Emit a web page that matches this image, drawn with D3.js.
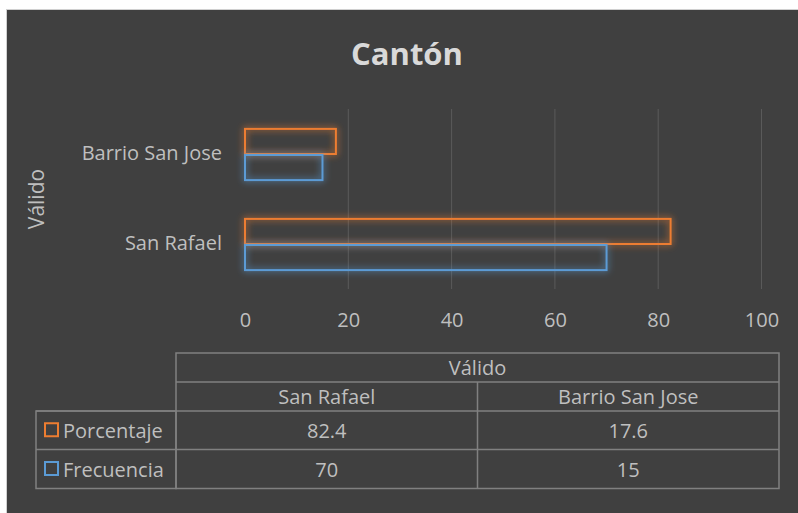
<!DOCTYPE html>
<html>
<head>
<meta charset="utf-8">
<script src="https://cdn.jsdelivr.net/npm/d3@7"></script>
<style>
  html, body { margin: 0; padding: 0; background: #fff; }
  svg { display: block; font-family: "Open Sans", sans-serif; }
</style>
</head>
<body>
<div id="chart"></div>
<script>
const categories = ['Barrio San Jose', 'San Rafael']
const seriesNames = ['Porcentaje', 'Frecuencia']
const porcentaje = [17.6, 82.4]
const frecuencia = [15, 70]
const xTicks = [0, 20, 40, 60, 80, 100]
// table columns go in the order shown under the chart
const tableCols = ['San Rafael', 'Barrio San Jose']
const tableRows = [['82.4', '17.6'], ['70', '15']]

const width = 798
const height = 513
const colors = { Porcentaje: '#ED7D31', Frecuencia: '#5B9BD5' }
const textColor = '#bfbfbf'
const lineColor = '#808080'
const fontSize = 20

const svg = d3.select('#chart').append('svg')
  .attr('width', width)
  .attr('height', height)

const defs = svg.append('defs')
const glow = defs.append('filter')
  .attr('id', 'glow')
  .attr('x', '-20%').attr('y', '-60%')
  .attr('width', '140%').attr('height', '220%')
glow.append('feGaussianBlur')
  .attr('in', 'SourceGraphic')
  .attr('stdDeviation', 3.5)
  .attr('result', 'blur')
glow.append('feComponentTransfer').attr('in', 'blur').attr('result', 'soft')
  .append('feFuncA').attr('type', 'linear').attr('slope', 1.1)
const merge = glow.append('feMerge')
merge.append('feMergeNode').attr('in', 'soft')
merge.append('feMergeNode').attr('in', 'SourceGraphic')

// frame
svg.append('rect')
  .attr('x', 6.5).attr('y', 9.5)
  .attr('width', width).attr('height', height)
  .attr('fill', '#404040')
  .attr('stroke', '#d0d0d0')
  .attr('stroke-width', 1)

svg.append('text')
  .attr('x', 407).attr('y', 65)
  .attr('text-anchor', 'middle')
  .attr('fill', '#d9d9d9')
  .attr('font-size', 31)
  .attr('font-weight', 'bold')
  .text('Cantón')

svg.append('text')
  .attr('transform', 'translate(44,199) rotate(-90)')
  .attr('text-anchor', 'middle')
  .attr('fill', textColor)
  .attr('font-size', 21)
  .text('Válido')

const plot = { left: 245, right: 761.5, top: 109, bottom: 289 }

const x = d3.scaleLinear()
  .domain([0, 100])
  .range([plot.left, plot.right])

const y = d3.scaleBand()
  .domain(categories)
  .range([plot.top, plot.bottom])
  .paddingInner(0.42)
  .paddingOuter(0.21)

const ySub = d3.scaleBand()
  .domain(seriesNames)
  .range([0, y.bandwidth()])

// gridlines
svg.append('g')
  .selectAll('line')
  .data(xTicks.slice(1))
  .join('line')
  .attr('x1', d => x(d)).attr('x2', d => x(d))
  .attr('y1', plot.top).attr('y2', plot.bottom)
  .attr('stroke', '#5a5a5a')
  .attr('stroke-width', 1)

// x axis labels
const xAxis = svg.append('g')
  .attr('transform', `translate(0,${plot.bottom})`)
  .call(d3.axisBottom(x).tickValues(xTicks).tickSize(0).tickPadding(24))
xAxis.select('.domain').remove()
xAxis.selectAll('text')
  .attr('fill', textColor)
  .attr('font-size', fontSize)
  .attr('font-family', '"Open Sans", sans-serif')

// y axis labels
const yAxis = svg.append('g')
  .attr('transform', `translate(${plot.left},0)`)
  .call(d3.axisLeft(y).tickSize(0).tickPadding(23))
yAxis.select('.domain').remove()
yAxis.selectAll('text')
  .attr('fill', textColor)
  .attr('font-size', fontSize)
  .attr('font-family', '"Open Sans", sans-serif')

// bars
const seriesData = [
  { name: 'Porcentaje', values: porcentaje },
  { name: 'Frecuencia', values: frecuencia }
]
seriesData.forEach(s => {
  svg.append('g')
    .attr('filter', 'url(#glow)')
    .selectAll('rect')
    .data(s.values.map((v, i) => ({ cat: categories[i], v })))
    .join('rect')
    .attr('x', x(0))
    .attr('y', d => y(d.cat) + ySub(s.name) + 1)
    .attr('width', d => x(d.v) - x(0))
    .attr('height', ySub.bandwidth() - 1)
    .attr('fill', 'none')
    .attr('stroke', colors[s.name])
    .attr('stroke-width', 2)
})

// data table
const tbl = { legendLeft: 36, left: 176, mid: 477.5, right: 779 }
const rowY = [353, 382, 411, 449.5, 488.5]
const colX = [tbl.left, tbl.mid, tbl.right]
const g = svg.append('g')
  .attr('stroke', lineColor)
  .attr('stroke-width', 1.5)
  .attr('fill', 'none')

g.append('rect')
  .attr('x', tbl.left).attr('y', rowY[0])
  .attr('width', tbl.right - tbl.left).attr('height', rowY[4] - rowY[0])
g.append('rect')
  .attr('x', tbl.legendLeft).attr('y', rowY[2])
  .attr('width', tbl.left - tbl.legendLeft).attr('height', rowY[4] - rowY[2])
;[1, 2, 3].forEach(r => {
  g.append('line')
    .attr('x1', r >= 2 ? tbl.legendLeft : tbl.left).attr('x2', tbl.right)
    .attr('y1', rowY[r]).attr('y2', rowY[r])
})
g.append('line')
  .attr('x1', tbl.mid).attr('x2', tbl.mid)
  .attr('y1', rowY[1]).attr('y2', rowY[4])

const cellText = (tx, ty, str, anchor) => svg.append('text')
  .attr('x', tx).attr('y', ty)
  .attr('text-anchor', anchor || 'middle')
  .attr('dominant-baseline', 'central')
  .attr('fill', textColor)
  .attr('font-size', fontSize)
  .text(str)

cellText((tbl.left + tbl.right) / 2, (rowY[0] + rowY[1]) / 2, 'Válido')
tableCols.forEach((c, i) => {
  cellText((colX[i] + colX[i + 1]) / 2, (rowY[1] + rowY[2]) / 2, c)
})
tableRows.forEach((row, r) => {
  const cy = (rowY[r + 2] + rowY[r + 3]) / 2
  row.forEach((v, i) => cellText((colX[i] + colX[i + 1]) / 2, cy, v))
  svg.append('rect')
    .attr('x', 45).attr('y', cy - 7)
    .attr('width', 13).attr('height', 13)
    .attr('fill', 'none')
    .attr('stroke', colors[seriesNames[r]])
    .attr('stroke-width', 2)
  cellText(63, cy, seriesNames[r], 'start')
})
</script>
</body>
</html>
